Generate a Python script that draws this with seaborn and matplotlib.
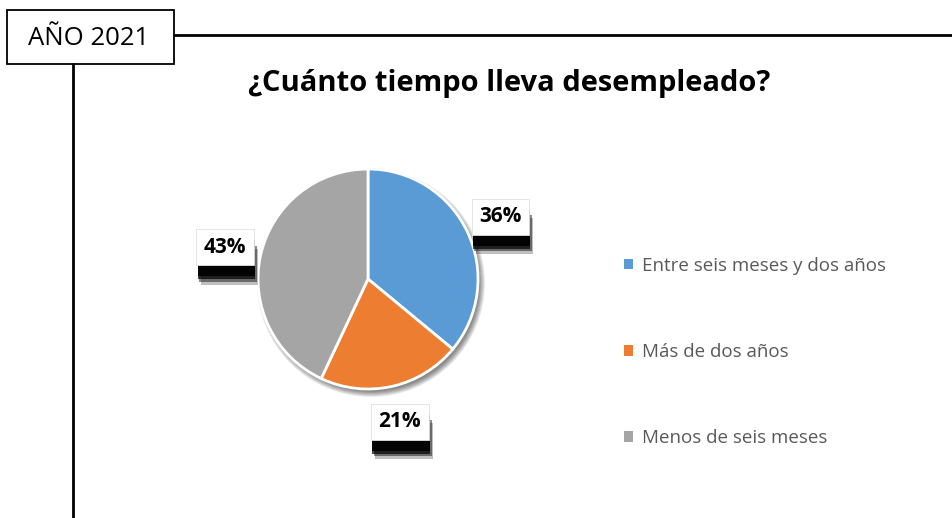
import matplotlib
matplotlib.use("Agg")
import matplotlib.pyplot as plt
import matplotlib.patheffects as pe
from matplotlib.patches import Rectangle, Circle
import seaborn as sns
import numpy as np

# data
categorias = ["Entre seis meses y dos años", "Más de dos años", "Menos de seis meses"]
porcentajes = [36, 21, 43]
colores = ["#5B9BD5", "#ED7D31", "#A5A5A5"]
titulo = "¿Cuánto tiempo lleva desempleado?"
etiqueta_anio = "AÑO 2021"


def main():
    sns.set_theme(style="white")
    plt.rcParams['font.family'] = ['Open Sans', 'DejaVu Sans']

    fig = plt.figure(figsize=(9.53, 5.18), dpi=100)
    ax = fig.add_axes([0, 0, 1, 1])
    ax.axis('off')

    # pie centre / radius in pixels (y up)
    cx, cy, r = 368, 518 - 279, 110

    # soft shadow under the pie
    for i in range(8):
        ax.add_patch(Circle((cx + 3, cy - 4), r + 4 - i * 0.8, color='black',
                            alpha=0.07, lw=0, zorder=1))

    wedges, _ = ax.pie(porcentajes, colors=colores, startangle=90, counterclock=False,
                       center=(cx, cy), radius=r, frame=True,
                       wedgeprops=dict(edgecolor='white', linewidth=2, zorder=2))
    ax.set_xlim(0, 953)
    ax.set_ylim(0, 518)
    ax.set_aspect('equal')
    ax.axis('off')

    # percentage labels with blurred shadow boxes
    sombra = [pe.SimplePatchShadow(offset=(dx, dy), shadow_rgbFace='black', alpha=a)
              for dx, dy, a in [(3, -14, 0.25), (2, -12, 0.45), (1, -10, 0.7), (1, -8, 0.9)]]
    for w, p in zip(wedges, porcentajes):
        ang = np.deg2rad((w.theta1 + w.theta2) / 2)
        x = cx + 1.33 * r * np.cos(ang)
        y = cy + 1.33 * r * np.sin(ang)
        t = ax.text(x, y, f"{p}%", ha='center', va='center', fontsize=15,
                    fontweight='bold', color='black', zorder=5,
                    bbox=dict(boxstyle='square,pad=0.36', fc='white', ec='#e0e0e0', lw=0.6))
        t.get_bbox_patch().set_path_effects(sombra + [pe.Normal()])

    # legend
    leg = fig.legend(wedges, categorias, loc='center left',
                     bbox_to_anchor=(607 / 953, 1 - 352 / 518), frameon=False,
                     fontsize=13.5, labelspacing=3.65, handlelength=0.5,
                     handleheight=0.5, handletextpad=0.45, labelcolor='#595959')
    for h in leg.legend_handles:
        h.set_edgecolor('none')

    # title
    fig.text(509 / 953, 1 - 84 / 518, titulo, ha='center', va='center',
             fontsize=21, fontweight='bold', color='black')

    # year box and frame lines
    ax.add_patch(Rectangle((7, 518 - 64), 167, 54, fill=False, ec='black', lw=1.3, zorder=6))
    ax.text(89, 518 - 38, etiqueta_anio, ha='center', va='center', fontsize=18.5,
            color='black', zorder=6)
    ax.plot([174, 953], [518 - 35, 518 - 35], color='black', lw=2)
    ax.plot([73, 73], [518 - 64, 0], color='black', lw=2)

    fig.savefig('out.png', dpi=100)


if __name__ == "__main__":
    main()
